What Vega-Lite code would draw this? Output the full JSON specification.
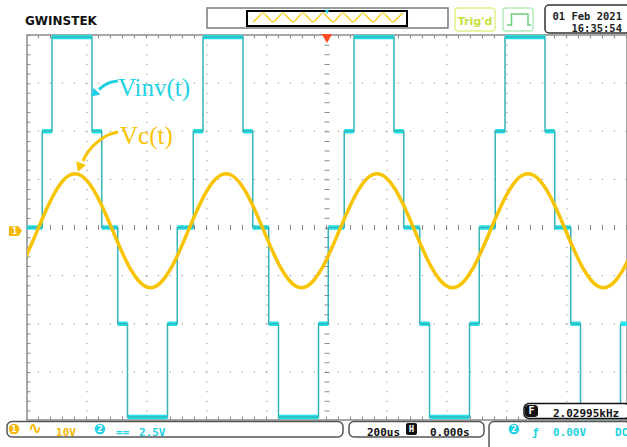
{
  "$schema": "https://vega.github.io/schema/vega-lite/v6.json",
  "width": 600,
  "height": 385,
  "autosize": {"type": "none"},
  "padding": {"left": 27, "top": 35, "right": 0, "bottom": 27},
  "background": "white",
  "config": {
    "view": {"stroke": "#8c8c8c", "strokeWidth": 1.5},
    "text": {"font": "DejaVu Sans Mono", "fontWeight": "bold", "fontSize": 11}
  },
  "data": {"values": [{}]},
  "datasets": {
    "vinv": [
      {"start": -1000, "end": -949.2, "v": 0},
      {"start": -949.2, "end": -916.7, "v": 5},
      {"start": -916.7, "end": -783.3, "v": 9.9},
      {"start": -783.3, "end": -750.8, "v": 5},
      {"start": -750.8, "end": -697.5, "v": 0},
      {"start": -697.5, "end": -665.0, "v": -5},
      {"start": -665.0, "end": -531.7, "v": -9.85},
      {"start": -531.7, "end": -499.2, "v": -5},
      {"start": -499.2, "end": -445.8, "v": 0},
      {"start": -445.8, "end": -413.3, "v": 5},
      {"start": -413.3, "end": -280.0, "v": 9.9},
      {"start": -280.0, "end": -247.5, "v": 5},
      {"start": -247.5, "end": -194.2, "v": 0},
      {"start": -194.2, "end": -161.7, "v": -5},
      {"start": -161.7, "end": -28.3, "v": -9.85},
      {"start": -28.3, "end": 4.2, "v": -5},
      {"start": 4.2, "end": 57.5, "v": 0},
      {"start": 57.5, "end": 90.0, "v": 5},
      {"start": 90.0, "end": 223.3, "v": 9.9},
      {"start": 223.3, "end": 255.8, "v": 5},
      {"start": 255.8, "end": 309.2, "v": 0},
      {"start": 309.2, "end": 341.7, "v": -5},
      {"start": 341.7, "end": 475.0, "v": -9.85},
      {"start": 475.0, "end": 507.5, "v": -5},
      {"start": 507.5, "end": 560.8, "v": 0},
      {"start": 560.8, "end": 593.3, "v": 5},
      {"start": 593.3, "end": 726.7, "v": 9.9},
      {"start": 726.7, "end": 759.2, "v": 5},
      {"start": 759.2, "end": 812.5, "v": 0},
      {"start": 812.5, "end": 845.0, "v": -5},
      {"start": 845.0, "end": 978.3, "v": -9.85},
      {"start": 978.3, "end": 1000, "v": -5}
    ],
    "vc": [
      {"t": -1007.8, "v": -6.58}, {"t": -986.8, "v": -3.72}, {"t": -965.8, "v": -0.66}, {"t": -944.9, "v": 2.40},
      {"t": -923.9, "v": 5.26}, {"t": -902.9, "v": 7.71}, {"t": -881.9, "v": 9.59}, {"t": -861.0, "v": 10.78},
      {"t": -840.0, "v": 11.18}, {"t": -819.0, "v": 10.78}, {"t": -798.1, "v": 9.59}, {"t": -777.1, "v": 7.71},
      {"t": -756.1, "v": 5.26}, {"t": -735.1, "v": 2.40}, {"t": -714.2, "v": -0.66}, {"t": -693.2, "v": -3.72},
      {"t": -672.2, "v": -6.58}, {"t": -651.3, "v": -9.03}, {"t": -630.3, "v": -10.91}, {"t": -609.3, "v": -12.10},
      {"t": -588.3, "v": -12.50}, {"t": -567.4, "v": -12.10}, {"t": -546.4, "v": -10.91}, {"t": -525.4, "v": -9.03},
      {"t": -504.4, "v": -6.58}, {"t": -483.5, "v": -3.72}, {"t": -462.5, "v": -0.66}, {"t": -441.5, "v": 2.40},
      {"t": -420.6, "v": 5.26}, {"t": -399.6, "v": 7.71}, {"t": -378.6, "v": 9.59}, {"t": -357.6, "v": 10.78},
      {"t": -336.7, "v": 11.18}, {"t": -315.7, "v": 10.78}, {"t": -294.7, "v": 9.59}, {"t": -273.8, "v": 7.71},
      {"t": -252.8, "v": 5.26}, {"t": -231.8, "v": 2.40}, {"t": -210.8, "v": -0.66}, {"t": -189.9, "v": -3.72},
      {"t": -168.9, "v": -6.58}, {"t": -147.9, "v": -9.03}, {"t": -126.9, "v": -10.91}, {"t": -106.0, "v": -12.10},
      {"t": -85.0, "v": -12.50}, {"t": -64.0, "v": -12.10}, {"t": -43.1, "v": -10.91}, {"t": -22.1, "v": -9.03},
      {"t": -1.1, "v": -6.58}, {"t": 19.9, "v": -3.72}, {"t": 40.8, "v": -0.66}, {"t": 61.8, "v": 2.40},
      {"t": 82.8, "v": 5.26}, {"t": 103.8, "v": 7.71}, {"t": 124.7, "v": 9.59}, {"t": 145.7, "v": 10.78},
      {"t": 166.7, "v": 11.18}, {"t": 187.6, "v": 10.78}, {"t": 208.6, "v": 9.59}, {"t": 229.6, "v": 7.71},
      {"t": 250.6, "v": 5.26}, {"t": 271.5, "v": 2.40}, {"t": 292.5, "v": -0.66}, {"t": 313.5, "v": -3.72},
      {"t": 334.4, "v": -6.58}, {"t": 355.4, "v": -9.03}, {"t": 376.4, "v": -10.91}, {"t": 397.4, "v": -12.10},
      {"t": 418.3, "v": -12.50}, {"t": 439.3, "v": -12.10}, {"t": 460.3, "v": -10.91}, {"t": 481.3, "v": -9.03},
      {"t": 502.2, "v": -6.58}, {"t": 523.2, "v": -3.72}, {"t": 544.2, "v": -0.66}, {"t": 565.1, "v": 2.40},
      {"t": 586.1, "v": 5.26}, {"t": 607.1, "v": 7.71}, {"t": 628.1, "v": 9.59}, {"t": 649.0, "v": 10.78},
      {"t": 670.0, "v": 11.18}, {"t": 691.0, "v": 10.78}, {"t": 711.9, "v": 9.59}, {"t": 732.9, "v": 7.71},
      {"t": 753.9, "v": 5.26}, {"t": 774.9, "v": 2.40}, {"t": 795.8, "v": -0.66}, {"t": 816.8, "v": -3.72},
      {"t": 837.8, "v": -6.58}, {"t": 858.7, "v": -9.03}, {"t": 879.7, "v": -10.91}, {"t": 900.7, "v": -12.10},
      {"t": 921.7, "v": -12.50}, {"t": 942.6, "v": -12.10}, {"t": 963.6, "v": -10.91}, {"t": 984.6, "v": -9.03},
      {"t": 1005.6, "v": -6.58}
    ],
    "arrows": [
      {"g": "inv", "t": -696.7, "v": 7.610}, {"g": "inv", "t": -723.3, "v": 7.532},
      {"g": "inv", "t": -743.3, "v": 7.377}, {"g": "inv", "t": -760.0, "v": 7.169},
      {"g": "c", "t": -696.7, "v": 4.961}, {"g": "c", "t": -730.0, "v": 4.805},
      {"g": "c", "t": -756.7, "v": 4.545}, {"g": "c", "t": -783.3, "v": 4.182},
      {"g": "c", "t": -803.3, "v": 3.766}, {"g": "c", "t": -813.3, "v": 3.455}
    ],
    "mini": [
      {"t": -246.7, "v": 10.675}, {"t": -230.0, "v": 10.909}, {"t": -213.3, "v": 11.143}, {"t": -196.7, "v": 10.909},
      {"t": -180.0, "v": 10.675}, {"t": -163.3, "v": 10.909}, {"t": -146.7, "v": 11.143}, {"t": -130.0, "v": 10.909},
      {"t": -113.3, "v": 10.675}, {"t": -96.7, "v": 10.909}, {"t": -80.0, "v": 11.143}, {"t": -63.3, "v": 10.909},
      {"t": -46.7, "v": 10.675}, {"t": -30.0, "v": 10.909}, {"t": -13.3, "v": 11.143}, {"t": 3.3, "v": 10.909},
      {"t": 20.0, "v": 10.675}, {"t": 36.7, "v": 10.909}, {"t": 53.3, "v": 11.143}, {"t": 70.0, "v": 10.909},
      {"t": 86.7, "v": 10.675}, {"t": 103.3, "v": 10.909}, {"t": 120.0, "v": 11.143}, {"t": 136.7, "v": 10.909},
      {"t": 153.3, "v": 10.675}, {"t": 170.0, "v": 10.909}, {"t": 186.7, "v": 11.143}, {"t": 203.3, "v": 10.909},
      {"t": 220.0, "v": 10.675}, {"t": 236.7, "v": 10.909}, {"t": 253.3, "v": 11.143}
    ]
  },
  "resolve": {"scale": {"y": "independent"}},
  "layer": [
    {
      "layer": [
        {"mark": {"type": "rule", "strokeWidth": 1, "strokeDash": [1.2, 8.425], "color": "#8a8a8a"}, "encoding": {"x": {"datum": -800, "axis": null}}},
        {"mark": {"type": "rule", "strokeWidth": 1, "strokeDash": [1.2, 8.425], "color": "#8a8a8a"}, "encoding": {"x": {"datum": -600, "axis": null}}},
        {"mark": {"type": "rule", "strokeWidth": 1, "strokeDash": [1.2, 8.425], "color": "#8a8a8a"}, "encoding": {"x": {"datum": -400, "axis": null}}},
        {"mark": {"type": "rule", "strokeWidth": 1, "strokeDash": [1.2, 8.425], "color": "#8a8a8a"}, "encoding": {"x": {"datum": -200, "axis": null}}},
        {"mark": {"type": "rule", "strokeWidth": 1, "strokeDash": [1.2, 8.425], "color": "#8a8a8a"}, "encoding": {"x": {"datum": 200, "axis": null}}},
        {"mark": {"type": "rule", "strokeWidth": 1, "strokeDash": [1.2, 8.425], "color": "#8a8a8a"}, "encoding": {"x": {"datum": 400, "axis": null}}},
        {"mark": {"type": "rule", "strokeWidth": 1, "strokeDash": [1.2, 8.425], "color": "#8a8a8a"}, "encoding": {"x": {"datum": 600, "axis": null}}},
        {"mark": {"type": "rule", "strokeWidth": 1, "strokeDash": [1.2, 8.425], "color": "#8a8a8a"}, "encoding": {"x": {"datum": 800, "axis": null}}},
        {"mark": {"type": "rule", "strokeWidth": 1, "strokeDash": [1.2, 10.8], "color": "#8a8a8a"}, "encoding": {"y": {"datum": 7.5, "axis": null}}},
        {"mark": {"type": "rule", "strokeWidth": 1, "strokeDash": [1.2, 10.8], "color": "#8a8a8a"}, "encoding": {"y": {"datum": 5, "axis": null}}},
        {"mark": {"type": "rule", "strokeWidth": 1, "strokeDash": [1.2, 10.8], "color": "#8a8a8a"}, "encoding": {"y": {"datum": 2.5, "axis": null}}},
        {"mark": {"type": "rule", "strokeWidth": 1, "strokeDash": [1.2, 10.8], "color": "#8a8a8a"}, "encoding": {"y": {"datum": -2.5, "axis": null}}},
        {"mark": {"type": "rule", "strokeWidth": 1, "strokeDash": [1.2, 10.8], "color": "#8a8a8a"}, "encoding": {"y": {"datum": -5, "axis": null}}},
        {"mark": {"type": "rule", "strokeWidth": 1, "strokeDash": [1.2, 10.8], "color": "#8a8a8a"}, "encoding": {"y": {"datum": -7.5, "axis": null}}},
        {"mark": {"type": "rule", "strokeWidth": 5, "strokeDash": [1, 11], "color": "#8a8a8a"},
         "encoding": {"y": {"datum": 0, "axis": null}}},
        {"mark": {"type": "rule", "strokeWidth": 5, "strokeDash": [1, 8.625], "color": "#8a8a8a"},
         "encoding": {"x": {"datum": 0, "axis": null}}},
        {"mark": {"type": "rule", "strokeWidth": 3.5, "strokeDash": [1, 11], "color": "#8a8a8a"},
         "encoding": {"y": {"datum": 9.909, "axis": null}}},
        {"mark": {"type": "rule", "strokeWidth": 3.5, "strokeDash": [1, 11], "color": "#8a8a8a"},
         "encoding": {"y": {"datum": -9.909, "axis": null}}},
        {"mark": {"type": "rule", "strokeWidth": 3.5, "strokeDash": [1, 8.625], "color": "#8a8a8a"},
         "encoding": {"x": {"datum": -994.2, "axis": null}}},
        {
          "data": {"name": "vinv"},
          "mark": {"type": "rule", "strokeWidth": 4.5, "color": "#22e2ec", "clip": true},
          "encoding": {
            "x": {"field": "start", "type": "quantitative", "scale": {"domain": [-1000, 1000]}, "axis": null},
            "x2": {"field": "end"},
            "y": {"field": "v", "type": "quantitative", "scale": {"domain": [-10, 10]}, "axis": null}
          }
        },
        {
          "data": {"name": "vinv"},
          "mark": {"type": "line", "interpolate": "step-after", "strokeWidth": 1.5, "color": "#36b6b9", "clip": true},
          "encoding": {
            "x": {"field": "start", "type": "quantitative", "axis": null},
            "y": {"field": "v", "type": "quantitative", "axis": null}
          }
        }
      ]
    },
    {
      "data": {"name": "vc"},
      "mark": {"type": "line", "interpolate": "monotone", "strokeWidth": 3.5, "color": "#f8c300", "clip": true},
      "encoding": {
        "x": {"field": "t", "type": "quantitative", "axis": null},
        "y": {"field": "v", "type": "quantitative", "scale": {"domain": [-40, 40]}, "axis": null}
      }
    },
    {
      "layer": [
        {
          "data": {"name": "arrows"},
          "mark": {"type": "line", "interpolate": "monotone", "strokeWidth": 3},
          "encoding": {
            "x": {"field": "t", "type": "quantitative", "axis": null},
            "y": {"field": "v", "type": "quantitative", "scale": {"domain": [-10, 10]}, "axis": null},
            "color": {"field": "g", "type": "nominal", "scale": {"domain": ["inv", "c"], "range": ["#22d2e2", "#f8c300"]}, "legend": null}
          }
        },
        {"mark": {"type": "point", "shape": "triangle", "filled": true, "opacity": 1, "size": 90, "angle": 225, "color": "#22d2e2"},
         "encoding": {"x": {"datum": -773.3, "axis": null}, "y": {"datum": 6.987, "axis": null}}},
        {"mark": {"type": "point", "shape": "triangle", "filled": true, "opacity": 1, "size": 110, "angle": 200, "color": "#f8c300"},
         "encoding": {"x": {"datum": -823.3, "axis": null}, "y": {"datum": 3.195, "axis": null}}},
        {"mark": {"type": "text", "text": "Vinv(t)", "align": "left", "font": "Liberation Serif", "fontWeight": "normal", "fontSize": 25, "color": "#22d2e2"},
         "encoding": {"x": {"datum": -696.7, "axis": null}, "y": {"datum": 7.247, "axis": null}}},
        {"mark": {"type": "text", "text": "Vc(t)", "align": "left", "font": "Liberation Serif", "fontWeight": "normal", "fontSize": 25, "color": "#f8c300"},
         "encoding": {"x": {"datum": -690, "axis": null}, "y": {"datum": 4.753, "axis": null}}},

        {"mark": {"type": "point", "shape": "triangle-down", "filled": true, "opacity": 1, "size": 110, "color": "#ff4b1f"},
         "encoding": {"x": {"datum": 0, "axis": null}, "y": {"datum": 9.818, "axis": null}}},
        {"mark": {"type": "point", "shape": "M-1,-0.75L0.45,-0.75L1,0L0.45,0.75L-1,0.75Z", "filled": true, "opacity": 1, "size": 169, "color": "#f5b700"},
         "encoding": {"x": {"datum": -1038.3, "axis": null}, "y": {"datum": -0.182, "axis": null}}},
        {"mark": {"type": "text", "text": "1", "baseline": "middle", "fontSize": 9, "color": "white"},
         "encoding": {"x": {"datum": -1041, "axis": null}, "y": {"datum": -0.182, "axis": null}}},

        {"mark": {"type": "text", "text": "GWINSTEK", "align": "left", "font": "DejaVu Sans", "fontSize": 12, "fontWeight": "bold", "color": "#111111"},
         "encoding": {"x": {"datum": -1006.7, "axis": null}, "y": {"datum": 10.727, "axis": null}}},
        {"mark": {"type": "rect", "fill": "white", "stroke": "#7a7a7a", "strokeWidth": 1.5},
         "encoding": {"x": {"datum": -400, "axis": null}, "x2": {"datum": 403.3}, "y": {"datum": 11.403, "axis": null}, "y2": {"datum": 10.364}}},
        {"mark": {"type": "rect", "filled": false, "stroke": "#000000", "strokeWidth": 2},
         "encoding": {"x": {"datum": -266.7, "axis": null}, "x2": {"datum": 266.7}, "y": {"datum": 11.247, "axis": null}, "y2": {"datum": 10.468}}},
        {
          "data": {"name": "mini"},
          "mark": {"type": "line", "interpolate": "monotone", "strokeWidth": 1.2, "color": "#f8c300"},
          "encoding": {
            "x": {"field": "t", "type": "quantitative", "axis": null},
            "y": {"field": "v", "type": "quantitative", "axis": null}
          }
        },
        {"mark": {"type": "point", "shape": "triangle-down", "filled": true, "opacity": 1, "size": 22, "color": "#22d2e2"},
         "encoding": {"x": {"datum": 0, "axis": null}, "y": {"datum": 11.2, "axis": null}}},
        {"mark": {"type": "rect", "fill": "white", "stroke": "#e4ef8a", "strokeWidth": 1.5, "cornerRadius": 3},
         "encoding": {"x": {"datum": 426.7, "axis": null}, "x2": {"datum": 560}, "y": {"datum": 11.403, "axis": null}, "y2": {"datum": 10.208}}},
        {"mark": {"type": "text", "text": "Trig'd", "align": "center", "font": "DejaVu Sans", "fontSize": 11, "color": "#c5e03c"},
         "encoding": {"x": {"datum": 493.3, "axis": null}, "y": {"datum": 10.701, "axis": null}}},
        {"mark": {"type": "rect", "fill": "white", "stroke": "#b4ecbc", "strokeWidth": 1.5, "cornerRadius": 3},
         "encoding": {"x": {"datum": 586.7, "axis": null}, "x2": {"datum": 686.7}, "y": {"datum": 11.403, "axis": null}, "y2": {"datum": 10.208}}},
        {"mark": {"type": "point", "shape": "M-1,0.46L-0.625,0.46L-0.625,-0.46L0.75,-0.46L0.75,0.46L1,0.46", "filled": false, "opacity": 1, "size": 576, "strokeWidth": 1.5, "color": "#6ccf7c"},
         "encoding": {"x": {"datum": 640, "axis": null}, "y": {"datum": 10.805, "axis": null}}},
        {"mark": {"type": "rect", "fill": "white", "stroke": "#333333", "strokeWidth": 1.5, "cornerRadius": 4},
         "encoding": {"x": {"datum": 726.7, "axis": null}, "x2": {"datum": 1010}, "y": {"datum": 11.558, "axis": null}, "y2": {"datum": 10.104}}},
        {"mark": {"type": "text", "text": "01 Feb 2021", "align": "right", "fontSize": 10.5, "color": "#222222"},
         "encoding": {"x": {"datum": 983.3, "axis": null}, "y": {"datum": 10.96, "axis": null}}},
        {"mark": {"type": "text", "text": "16:35:54", "align": "right", "fontSize": 10.5, "color": "#222222"},
         "encoding": {"x": {"datum": 983.3, "axis": null}, "y": {"datum": 10.29, "axis": null}}},

        {"mark": {"type": "rect", "fill": "white", "stroke": "#555555", "strokeWidth": 1.5, "cornerRadius": 5},
         "encoding": {"x": {"datum": -1066.7, "axis": null}, "x2": {"datum": 53.3}, "y": {"datum": -10.078, "axis": null}, "y2": {"datum": -10.883}}},
        {"mark": {"type": "point", "shape": "circle", "filled": true, "opacity": 1, "size": 110, "color": "#f5b700"},
         "encoding": {"x": {"datum": -1043.3, "axis": null}, "y": {"datum": -10.468, "axis": null}}},
        {"mark": {"type": "text", "text": "1", "baseline": "middle", "fontSize": 9, "color": "white"},
         "encoding": {"x": {"datum": -1043.3, "axis": null}, "y": {"datum": -10.468, "axis": null}}},
        {"mark": {"type": "text", "text": "∿", "align": "center", "baseline": "middle", "font": "DejaVu Sans", "fontSize": 17, "color": "#f5b700"},
         "encoding": {"x": {"datum": -973.3, "axis": null}, "y": {"datum": -10.468, "axis": null}}},
        {"mark": {"type": "text", "text": "10V", "align": "left", "color": "#f5b700"},
         "encoding": {"x": {"datum": -903.3, "axis": null}, "y": {"datum": -10.675, "axis": null}}},
        {"mark": {"type": "point", "shape": "circle", "filled": true, "opacity": 1, "size": 110, "color": "#22d2e2"},
         "encoding": {"x": {"datum": -756.7, "axis": null}, "y": {"datum": -10.468, "axis": null}}},
        {"mark": {"type": "text", "text": "2", "baseline": "middle", "fontSize": 9, "color": "white"},
         "encoding": {"x": {"datum": -756.7, "axis": null}, "y": {"datum": -10.468, "axis": null}}},
        {"mark": {"type": "text", "text": "==", "align": "left", "color": "#22d2e2"},
         "encoding": {"x": {"datum": -703.3, "axis": null}, "y": {"datum": -10.675, "axis": null}}},
        {"mark": {"type": "text", "text": "2.5V", "align": "left", "color": "#22d2e2"},
         "encoding": {"x": {"datum": -626.7, "axis": null}, "y": {"datum": -10.675, "axis": null}}},

        {"mark": {"type": "rect", "fill": "white", "stroke": "#555555", "strokeWidth": 1.5, "cornerRadius": 5},
         "encoding": {"x": {"datum": 73.3, "axis": null}, "x2": {"datum": 523.3}, "y": {"datum": -10.078, "axis": null}, "y2": {"datum": -10.883}}},
        {"mark": {"type": "text", "text": "200us", "align": "left", "color": "#111111"},
         "encoding": {"x": {"datum": 133.3, "axis": null}, "y": {"datum": -10.675, "axis": null}}},
        {"mark": {"type": "rect", "fill": "#111111", "cornerRadius": 2},
         "encoding": {"x": {"datum": 263.3, "axis": null}, "x2": {"datum": 300}, "y": {"datum": -10.156, "axis": null}, "y2": {"datum": -10.779}}},
        {"mark": {"type": "text", "text": "H", "baseline": "middle", "fontSize": 9, "color": "white"},
         "encoding": {"x": {"datum": 281.7, "axis": null}, "y": {"datum": -10.468, "axis": null}}},
        {"mark": {"type": "text", "text": "0.000s", "align": "left", "color": "#111111"},
         "encoding": {"x": {"datum": 343.3, "axis": null}, "y": {"datum": -10.675, "axis": null}}},

        {"mark": {"type": "rect", "fill": "white", "stroke": "#555555", "strokeWidth": 1.5, "cornerRadius": 5},
         "encoding": {"x": {"datum": 540, "axis": null}, "x2": {"datum": 1010}, "y": {"datum": -10.078, "axis": null}, "y2": {"datum": -11.6}}},
        {"mark": {"type": "point", "shape": "circle", "filled": true, "opacity": 1, "size": 110, "color": "#22d2e2"},
         "encoding": {"x": {"datum": 623.3, "axis": null}, "y": {"datum": -10.468, "axis": null}}},
        {"mark": {"type": "text", "text": "2", "baseline": "middle", "fontSize": 9, "color": "white"},
         "encoding": {"x": {"datum": 623.3, "axis": null}, "y": {"datum": -10.468, "axis": null}}},
        {"mark": {"type": "text", "text": "ƒ", "align": "left", "color": "#22d2e2"},
         "encoding": {"x": {"datum": 683.3, "axis": null}, "y": {"datum": -10.675, "axis": null}}},
        {"mark": {"type": "text", "text": "0.00V", "align": "left", "color": "#22d2e2"},
         "encoding": {"x": {"datum": 753.3, "axis": null}, "y": {"datum": -10.675, "axis": null}}},
        {"mark": {"type": "text", "text": "DC", "align": "left", "color": "#22d2e2"},
         "encoding": {"x": {"datum": 960, "axis": null}, "y": {"datum": -10.675, "axis": null}}},

        {"mark": {"type": "rect", "fill": "white", "stroke": "#111111", "strokeWidth": 1.5, "cornerRadius": 5},
         "encoding": {"x": {"datum": 656.7, "axis": null}, "x2": {"datum": 1010}, "y": {"datum": -9.143, "axis": null}, "y2": {"datum": -9.922}}},
        {"mark": {"type": "rect", "fill": "#111111", "cornerRadius": 3},
         "encoding": {"x": {"datum": 660, "axis": null}, "x2": {"datum": 703.3}, "y": {"datum": -9.221, "axis": null}, "y2": {"datum": -9.844}}},
        {"mark": {"type": "text", "text": "F", "baseline": "middle", "fontSize": 10, "color": "white"},
         "encoding": {"x": {"datum": 681.7, "axis": null}, "y": {"datum": -9.532, "axis": null}}},
        {"mark": {"type": "text", "text": "2.02995kHz", "align": "left", "color": "#111111"},
         "encoding": {"x": {"datum": 753.3, "axis": null}, "y": {"datum": -9.688, "axis": null}}}
      ]
    }
  ]
}
